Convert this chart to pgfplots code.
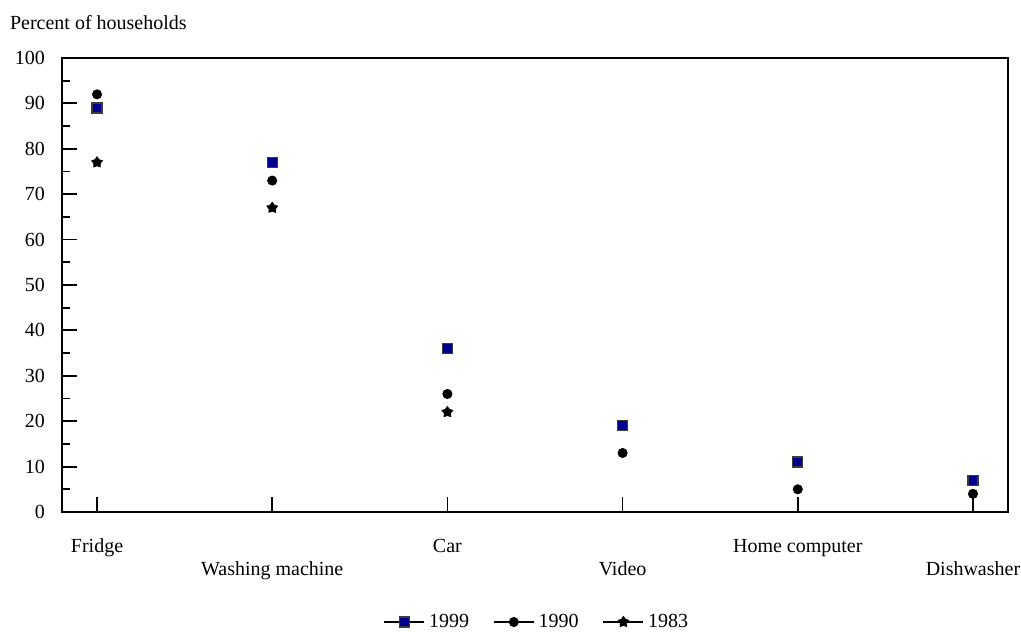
\documentclass[border=0pt]{standalone}
\usepackage{fontspec}
\setmainfont{Liberation Serif}
\usepackage{pgfplots}
\pgfplotsset{compat=1.18}
\definecolor{navyfill}{RGB}{0,0,140}
\definecolor{sqedge}{RGB}{60,60,60}
\pgfdeclareplotmark{fstar}{%
  \pgfpathmoveto{\pgfpointpolar{90}{\pgfplotmarksize}}%
  \pgfpathlineto{\pgfpointpolar{126}{0.6\pgfplotmarksize}}%
  \pgfpathlineto{\pgfpointpolar{162}{\pgfplotmarksize}}%
  \pgfpathlineto{\pgfpointpolar{198}{0.6\pgfplotmarksize}}%
  \pgfpathlineto{\pgfpointpolar{234}{\pgfplotmarksize}}%
  \pgfpathlineto{\pgfpointpolar{270}{0.6\pgfplotmarksize}}%
  \pgfpathlineto{\pgfpointpolar{306}{\pgfplotmarksize}}%
  \pgfpathlineto{\pgfpointpolar{342}{0.6\pgfplotmarksize}}%
  \pgfpathlineto{\pgfpointpolar{18}{\pgfplotmarksize}}%
  \pgfpathlineto{\pgfpointpolar{54}{0.6\pgfplotmarksize}}%
  \pgfpathclose\pgfusepathqfillstroke}
\pgfplotsset{linemark legend/.style={legend image code/.code={%
  \draw[black, line width=0.8pt] (0pt,0pt) -- (20pt,0pt);
  \draw[##1] plot coordinates {(10pt,0pt)};}}}
\pgfplotstableread{
x y
0 89
1 77
2 36
3 19
4 11
5 7
}\dataA
\pgfplotstableread{
x y
0 92
1 73
2 26
3 13
4 5
5 4
}\dataB
\pgfplotstableread{
x y
0 77
1 67
2 22
}\dataC
\begin{document}
\begin{tikzpicture}
\useasboundingbox (-31pt,-59.5pt) rectangle (479.5pt,256pt);
\begin{axis}[
  at={(0pt,0pt)}, anchor=south west,
  scale only axis, width=473pt, height=227pt,
  xmin=-0.2, xmax=5.2, ymin=0, ymax=100,
  axis line style={line width=0.9pt},
  xtick={0,1,2,3,4,5},
  xticklabels={Fridge,\raisebox{-11.5pt}[\height][0pt]{Washing machine},Car,\raisebox{-11.5pt}[\height][0pt]{Video},Home computer,\raisebox{-11.5pt}[\height][0pt]{Dishwasher}},
  ytick={0,10,...,100},
  minor ytick={5,15,...,95},
  tick align=inside,
  xtick pos=bottom, ytick pos=left,
  major tick length=7.5pt, minor tick length=4pt,
  tick style={black, line width=0.9pt},
  /pgf/number format/assume math mode=true,
  yticklabel style={xshift=-5pt},
  xticklabel style={yshift=-10pt, anchor=north},
  legend columns=3,
  legend style={draw=none, at={(0.503,0)}, anchor=center, yshift=-55pt,
    /tikz/every even column/.append style={column sep=10pt}},
  clip=false,
]
\addplot[only marks, mark=square*, mark size=2.5pt, mark options={fill=navyfill, draw=sqedge, line width=0.7pt}, linemark legend]
  table[x=x,y=y] {\dataA};
\addlegendentry{1999}
\addplot[only marks, mark=*, mark size=2.3pt, mark options={fill=black, draw=black}, linemark legend]
  table[x=x,y=y] {\dataB};
\addlegendentry{1990}
\addplot[only marks, mark=fstar, mark size=2.8pt, mark options={fill=black, draw=black, line width=0.4pt}, linemark legend]
  table[x=x,y=y] {\dataC};
\addlegendentry{1983}
\node[anchor=west] at (rel axis cs:0,1) [xshift=-29.5pt, yshift=17.5pt] {Percent of households};
\end{axis}
\end{tikzpicture}
\end{document}
